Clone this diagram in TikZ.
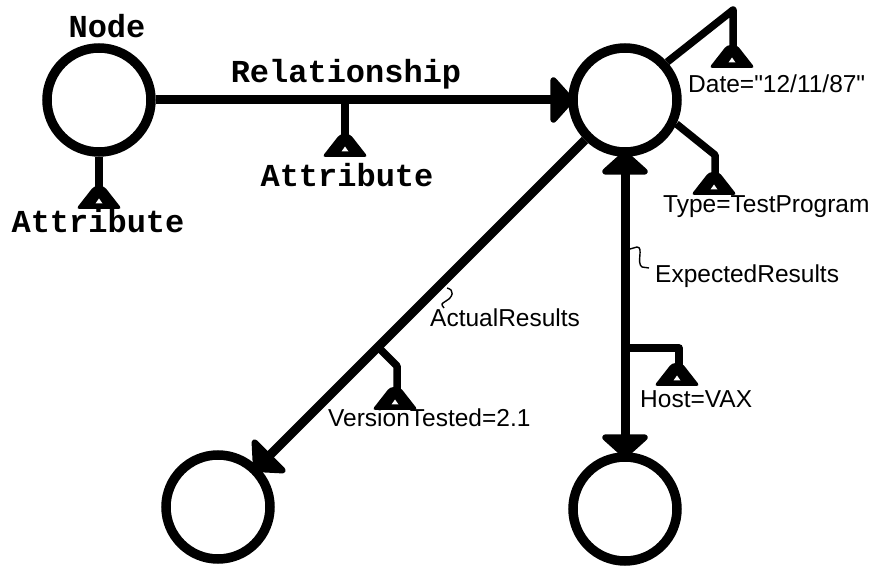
\documentclass[tikz,border=0pt]{standalone}
\usepackage{fontspec}
\setmainfont{Liberation Sans}[Ligatures=TeXOff]
\newfontfamily\slabfont{Liberation Mono}
\usetikzlibrary{arrows.meta}

\begin{document}
\begin{tikzpicture}[x=1pt, y=-1pt,
    entity/.style={draw, circle, line width=9.5pt, minimum size=104pt, inner sep=0pt},
    rel/.style={line width=9pt},
    stem/.style={line width=7.5pt, line join=round},
    squig/.style={line width=1.4pt},
    big/.style={inner sep=0pt, font=\slabfont\bfseries\fontsize{32}{32}\selectfont},
    small/.style={inner sep=0pt, anchor=base west, font=\fontsize{24.5}{25}\selectfont},
    >={Triangle[width=54pt, length=25pt, round]},
    attr/.pic={
      \fill[rounded corners=3.5pt] (-23,22) -- (-5,-1) -- (5,-1) -- (23,22) -- cycle;
      \fill[white] (-3.5,16.5) -- (0,11.5) -- (3.5,16.5) -- cycle;
    }]

  % Fix the page to the size of the drawing
  \useasboundingbox (0,0) rectangle (879,569);

  % The four entities
  \node[entity] (node) at (99,100) {};
  \node[entity] (prog) at (625,100) {};
  \node[entity] (actual) at (218,507) {};
  \node[entity] (expect) at (625,509) {};

  % Relationships between them
  \draw[rel, ->, shorten >=-6pt] (node) -- (prog);
  \draw[rel, ->, shorten >=-6pt] (prog) -- (actual);
  \draw[rel, <->, shorten >=-6pt, shorten <=-6pt] (prog) -- (expect);

  % Points where the attributes hang off
  \coordinate (relTag) at (345,100);
  \coordinate (hostTag) at (625,348);
  \coordinate (verTag) at (378,347);
  \coordinate (expTag) at (630,249);
  \coordinate (actTag) at (447,288);

  % Attribute stems, each ending in a little triangle
  \draw[stem] (node.south) -- (99,189);
  \pic at (99,187) {attr};
  \draw[stem] (relTag) -- (345,137);
  \pic at (345,135) {attr};
  \draw[stem] (prog.42) -- (733,10) -- (733,48);
  \pic at (732,46) {attr};
  \draw[stem] (prog.-25) -- (715,155) -- (715,175);
  \pic at (714,173) {attr};
  \draw[stem] (hostTag) -- (679,348) -- (679,365);
  \pic at (677,364) {attr};
  \draw[stem] (verTag) -- (397,366) -- (397,390);
  \pic at (395,388) {attr};

  % Labels in the slab face
  \node[big, anchor=base] (nodeLbl) at (107,38) {Node};
  \node[big, anchor=base] (relLbl) at (346,83) {Relationship};
  \node[big, anchor=base] (relAttr) at (347,187) {Attribute};
  \node[big, anchor=base] (nodeAttr) at (98,233) {Attribute};

  % Attribute values and relationship names
  \node[small] (dateLbl) at (688,93) {Date="12/11/87"};
  \node[small] (typeLbl) at (663,213) {Type=TestProgram};
  \node[small] (expLbl) at (655,283) {ExpectedResults};
  \node[small] (hostLbl) at (640,408) {Host=VAX};
  \node[small] (actLbl) at (430,327) {ActualResults};
  \node[small] (verLbl) at (328,427) {VersionTested=2.1};

  % Little hooks tying the names to their lines
  \draw[squig] (expTag) -- (637,247) .. controls (644,247) and (636,263) .. (642,267) -- (649,268);
  \draw[squig] (actTag) .. controls (455,290) and (453,297) .. (446,301) .. controls (441,304) .. (444,308);

\end{tikzpicture}
\end{document}
